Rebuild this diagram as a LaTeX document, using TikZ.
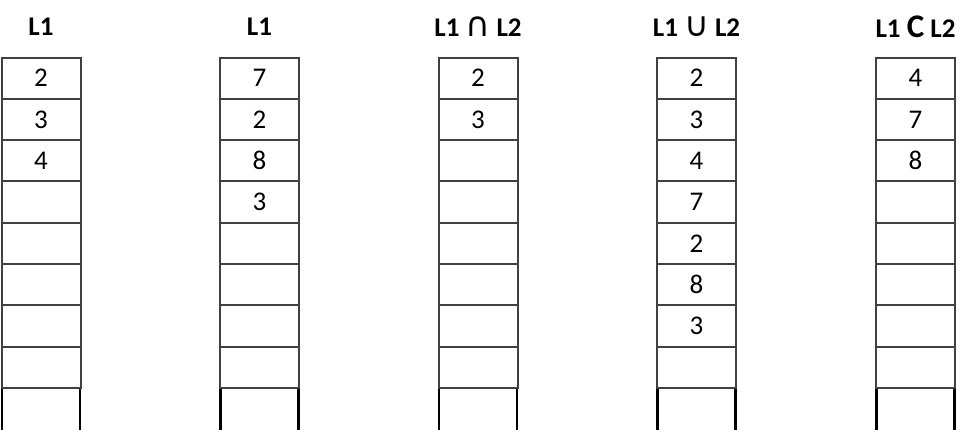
\documentclass[tikz,border=0pt]{standalone}
\usepackage{fontspec}
\setmainfont{Carlito}
\newfontfamily\symfont{DejaVu Sans}

\tikzset{
	cell/.style={draw=black!75, line width=1pt, minimum width=39.5pt, minimum height=20.65pt, inner sep=0pt, font=\fontsize{13.5}{16}\selectfont},
	title/.style={font=\fontsize{13.5}{16}\selectfont\bfseries},
	openend/.style={draw=black, line width=1.2pt}
}

\begin{document}
\begin{tikzpicture}[x=0.5pt, y=-0.5pt]
	\useasboundingbox (0,0) rectangle (964,429);

	% titles
	\node[title] (t1) at(41, 27){L1};
	\node[title] (t2) at(259.5, 27){L1};
	\node[title] (t3) at(478, 27){L1 {\symfont\mdseries\fontsize{17}{16}\selectfont ∩} L2};
	\node[title] (t4) at(696.5, 27){L1 {\symfont\mdseries\fontsize{17}{16}\selectfont ∪} L2};
	\node[title] (t5) at(915.5, 27){L1 {\fontsize{16.5}{16}\selectfont C} L2};

	% first list
	\foreach \v [count=\r] in {2,3,4,{},{},{},{},{}}
		\node[cell] (a\r) at(41, 57.5+41.3*\r-20.65){\v};
		\draw[openend] (a8.south west) ++(1.5,0) coordinate (a9l) -- ++(0,45);
		\draw[openend] (a8.south east) ++(-1.5,0) coordinate (a9r) -- ++(0,45);

	% second list
	\foreach \v [count=\r] in {7,2,8,3,{},{},{},{}}
		\node[cell] (b\r) at(259.5, 57.5+41.3*\r-20.65){\v};
		\draw[openend] (b8.south west) ++(1.5,0) coordinate (b9l) -- ++(0,45);
		\draw[openend] (b8.south east) ++(-1.5,0) coordinate (b9r) -- ++(0,45);

	% intersection
	\foreach \v [count=\r] in {2,3,{},{},{},{},{},{}}
		\node[cell] (c\r) at(478, 57.5+41.3*\r-20.65){\v};
		\draw[openend] (c8.south west) ++(1.5,0) coordinate (c9l) -- ++(0,45);
		\draw[openend] (c8.south east) ++(-1.5,0) coordinate (c9r) -- ++(0,45);

	% union
	\foreach \v [count=\r] in {2,3,4,7,2,8,3,{}}
		\node[cell] (d\r) at(696.5, 57.5+41.3*\r-20.65){\v};
		\draw[openend] (d8.south west) ++(1.5,0) coordinate (d9l) -- ++(0,45);
		\draw[openend] (d8.south east) ++(-1.5,0) coordinate (d9r) -- ++(0,45);

	% difference
	\foreach \v [count=\r] in {4,7,8,{},{},{},{},{}}
		\node[cell] (e\r) at(915.5, 57.5+41.3*\r-20.65){\v};
		\draw[openend] (e8.south west) ++(1.5,0) coordinate (e9l) -- ++(0,45);
		\draw[openend] (e8.south east) ++(-1.5,0) coordinate (e9r) -- ++(0,45);
\end{tikzpicture}
\end{document}
